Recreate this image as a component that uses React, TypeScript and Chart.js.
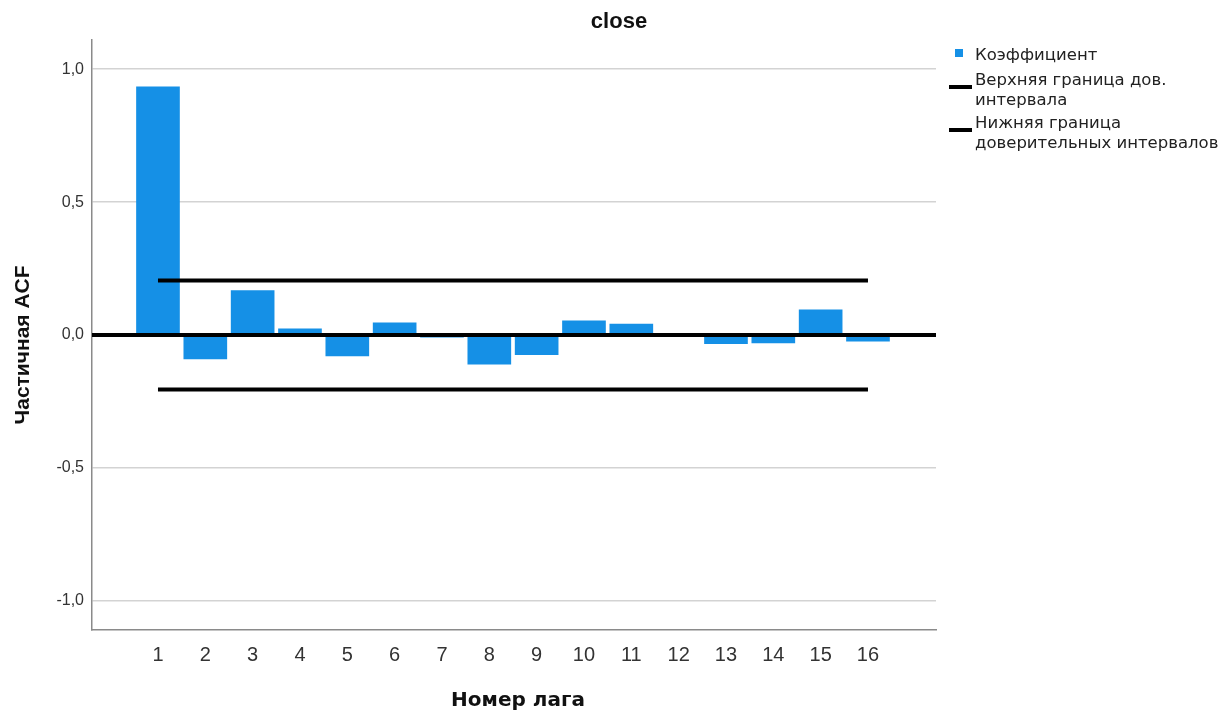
import React, { useEffect, useRef } from 'react';
import { Chart, registerables } from 'chart.js';

Chart.register(...registerables);

const chartTitle = 'close';
const xAxisTitle = 'Номер лага';
const yAxisTitle = 'Частичная ACF';
const lags = [1, 2, 3, 4, 5, 6, 7, 8, 9, 10, 11, 12, 13, 14, 15, 16];
const coefficients = [0.934, -0.09, 0.167, 0.023, -0.079, 0.046, -0.008, -0.11, -0.074, 0.053, 0.041, 0.003, -0.033, -0.03, 0.095, -0.023];
const upperLimit = [0.205, 0.205, 0.205, 0.205, 0.205, 0.205, 0.205, 0.205, 0.205, 0.205, 0.205, 0.205, 0.205, 0.205, 0.205, 0.205];
const lowerLimit = [-0.205, -0.205, -0.205, -0.205, -0.205, -0.205, -0.205, -0.205, -0.205, -0.205, -0.205, -0.205, -0.205, -0.205, -0.205, -0.205];
const yTicks = [-1, -0.5, 0, 0.5, 1];
const legendLabels = ['Коэффициент', 'Верхняя граница дов.\nинтервала', 'Нижняя граница\nдоверительных интервалов'];

const FONT = '"Liberation Sans", Arial, sans-serif';
const WIDE_FONT = '"DejaVu Sans", Verdana, sans-serif';
const BAR_COLOR = '#1590e6';

const overlayPlugin = {
  id: 'overlay',
  afterDatasetsDraw(chart: any) {
    const { ctx, chartArea, scales } = chart;
    const y = scales.y.getPixelForValue(0);
    ctx.save();
    ctx.strokeStyle = '#000';
    ctx.lineWidth = 4;
    ctx.beginPath();
    ctx.moveTo(chartArea.left, y);
    ctx.lineTo(chartArea.right, y);
    ctx.stroke();
    ctx.restore();
  },
  afterDraw(chart: any) {
    const { ctx, chartArea } = chart;
    ctx.save();
    ctx.fillStyle = '#111';
    ctx.textAlign = 'center';
    ctx.textBaseline = 'middle';
    ctx.font = `bold 22px ${FONT}`;
    ctx.fillText(chartTitle, chart.width / 2 + 3, 22);
    ctx.font = `bold 20px ${WIDE_FONT}`;
    ctx.fillText(xAxisTitle, (chartArea.left + chartArea.right) / 2 + 4, 701);
    ctx.translate(23, (chartArea.top + chartArea.bottom) / 2 + 10);
    ctx.rotate(-Math.PI / 2);
    ctx.font = `bold 21px ${FONT}`;
    ctx.fillText(yAxisTitle, 0, 0);
    ctx.restore();
  },
};

export default function App() {
  const ref = useRef<HTMLCanvasElement | null>(null);

  useEffect(() => {
    if (!ref.current) return;
    const chart = new Chart(ref.current, {
      type: 'bar',
      data: {
        datasets: [
          {
            type: 'line',
            label: legendLabels[1],
            data: lags.map((l, i) => ({ x: l, y: upperLimit[i] })),
            borderColor: '#000',
            borderWidth: 4,
            pointRadius: 0,
            order: 1,
          } as any,
          {
            type: 'line',
            label: legendLabels[2],
            data: lags.map((l, i) => ({ x: l, y: lowerLimit[i] })),
            borderColor: '#000',
            borderWidth: 4,
            pointRadius: 0,
            order: 1,
          } as any,
          {
            type: 'bar',
            label: legendLabels[0],
            data: lags.map((l, i) => ({ x: l, y: coefficients[i] })),
            backgroundColor: BAR_COLOR,
            borderWidth: 0,
            barThickness: 43,
            order: 2,
          } as any,
        ],
      },
      options: {
        responsive: false,
        animation: false,
        devicePixelRatio: 1,
        layout: { padding: { left: 0, right: 296, top: 40, bottom: 0 } },
        plugins: {
          legend: { display: false },
          title: { display: false },
          tooltip: { enabled: false },
        },
        scales: {
          x: {
            type: 'linear',
            offset: false,
            min: -0.394,
            max: 17.437,
            afterBuildTicks: (s: any) => {
              s.ticks = lags.map((v) => ({ value: v }));
            },
            afterFit: (s: any) => {
              s.height = 83;
            },
            grid: { display: false, drawTicks: false },
            border: { display: true, color: '#8a8a8a', width: 1.5 },
            ticks: {
              autoSkip: false,
              maxRotation: 0,
              padding: 13,
              color: '#333',
              font: { family: FONT, size: 20 },
              callback: (v: any) => String(v),
            },
            title: { display: false },
          },
          y: {
            min: -1.11,
            max: 1.11,
            afterBuildTicks: (s: any) => {
              s.ticks = yTicks.map((v) => ({ value: v }));
            },
            afterFit: (s: any) => {
              s.width = 92;
            },
            grid: { color: '#d3d3d3', lineWidth: 1.5, drawTicks: false },
            border: { display: true, color: '#8a8a8a', width: 1.5 },
            ticks: {
              padding: 8,
              color: '#333',
              font: { family: FONT, size: 16 },
              callback: (v: any) => Number(v).toFixed(1).replace('.', ','),
            },
            title: { display: false },
          },
        },
      } as any,
      plugins: [overlayPlugin],
    });
    return () => chart.destroy();
  }, []);

  const textStyle: React.CSSProperties = {
    position: 'absolute',
    left: 975,
    fontFamily: WIDE_FONT,
    fontSize: 16.5,
    lineHeight: '20px',
    color: '#222',
    whiteSpace: 'pre',
  };

  return (
    <div style={{ position: 'absolute', left: 0, top: 0, width: 1232, height: 713, background: '#fff' }}>
      <canvas ref={ref} width={1232} height={713} style={{ display: 'block' }} />
      <div style={{ position: 'absolute', left: 955, top: 49, width: 8, height: 8, background: BAR_COLOR }} />
      <div style={{ ...textStyle, top: 45 }}>{legendLabels[0]}</div>
      <div style={{ position: 'absolute', left: 949, top: 85, width: 23, height: 4, background: '#000' }} />
      <div style={{ ...textStyle, top: 70 }}>{legendLabels[1]}</div>
      <div style={{ position: 'absolute', left: 949, top: 128, width: 23, height: 4, background: '#000' }} />
      <div style={{ ...textStyle, top: 113 }}>{legendLabels[2]}</div>
    </div>
  );
}
